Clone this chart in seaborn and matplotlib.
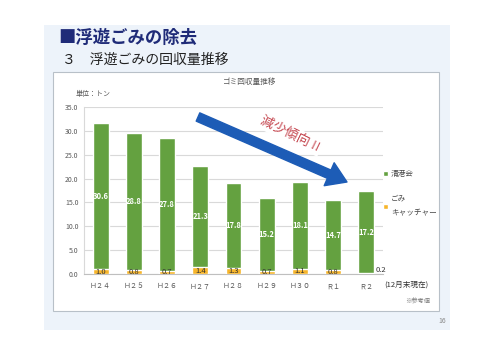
import pandas as pd
import seaborn as sns
import matplotlib.pyplot as plt
from matplotlib.patches import Rectangle, Patch

# データ（単位：トン）
years = ['Ｈ２４', 'Ｈ２５', 'Ｈ２６', 'Ｈ２７', 'Ｈ２８', 'Ｈ２９', 'Ｈ３０', 'Ｒ１', 'Ｒ２']
seikokai = [30.6, 28.8, 27.8, 21.3, 17.8, 15.2, 18.1, 14.7, 17.2]
catcher = [1.0, 0.8, 0.7, 1.4, 1.3, 0.7, 1.1, 0.8, 0.2]

df = pd.DataFrame({'year': years, 'seikokai': seikokai, 'catcher': catcher})
df['total'] = df['seikokai'] + df['catcher']

sns.set_style('white')
plt.rcParams['font.family'] = ['Noto Sans CJK JP', 'DejaVu Sans']

W, H = 500, 354
fig = plt.figure(figsize=(5, 3.54), dpi=100)
fig.patch.set_facecolor('white')


def px(x, y):
    return x / W, 1 - y / H


# スライド背景と枠
fig.patches.append(Rectangle(px(44, 330), 406 / W, 305 / H, transform=fig.transFigure,
                             facecolor='#edf3fa', edgecolor='none', zorder=-2))
fig.patches.append(Rectangle(px(53, 311), 386 / W, 239 / H, transform=fig.transFigure,
                             facecolor='white', edgecolor='#b8c0c8', lw=0.8, zorder=-1))

fig.text(*px(58, 38), '■浮遊ごみの除去', fontsize=12.5, fontweight='bold', color='#1f2b78',
         va='center', ha='left')
fig.text(*px(62, 60), '３　浮遊ごみの回収量推移', fontsize=10, color='#222222',
         va='center', ha='left')
fig.text(*px(250, 82), 'ゴミ回収量推移', fontsize=5.5, color='#555555', va='center', ha='center')
fig.text(*px(76, 94), '単位：トン', fontsize=5, color='#555555', va='center', ha='left')

ax = fig.add_axes([84 / W, 80 / H, 299 / W, 167 / H])
ax.set_zorder(2)
ax.set_facecolor('none')
green = '#64a140'
orange = '#f7b52a'
sns.barplot(data=df, x='year', y='total', color=green, saturation=1, width=0.48, ax=ax, zorder=3)
sns.barplot(data=df, x='year', y='catcher', color=orange, saturation=1, width=0.48, ax=ax, zorder=3)

for i, row in df.iterrows():
    ax.text(i, row['catcher'] + row['seikokai'] / 2, f"{row['seikokai']:.1f}", ha='center',
            va='center', color='white', fontsize=5.5, fontweight='bold', zorder=5)
    if row['catcher'] < 0.5:
        ax.text(i + 0.27, row['catcher'] + 0.6, f"{row['catcher']:.1f}", ha='left',
                va='center', color='#333333', fontsize=5.5, zorder=5)
    else:
        ax.text(i, row['catcher'] / 2, f"{row['catcher']:.1f}", ha='center',
                va='center', color='#333333', fontsize=5.5, zorder=5)

ax.set_ylim(0, 35)
ax.set_xlim(-0.5, 8.5)
ax.set_yticks([0, 5, 10, 15, 20, 25, 30, 35])
ax.set_yticklabels([f'{v:.1f}' for v in [0, 5, 10, 15, 20, 25, 30, 35]])
ax.yaxis.grid(True, color='#d9d9d9', lw=0.8, zorder=0)
ax.set_axisbelow(True)
ax.set_xlabel('')
ax.set_ylabel('')
ax.tick_params(axis='both', labelsize=5, colors='#595959', length=0, pad=4)
ax.tick_params(axis='x', pad=6)
ax.set_xticks([x + 0.5 for x in range(-1, 9)], minor=True)
ax.tick_params(axis='x', which='minor', length=2, color='#bfbfbf', direction='out')
for s in ['top', 'right']:
    ax.spines[s].set_visible(False)
ax.spines['left'].set_color('#d9d9d9')
ax.spines['bottom'].set_color('#bfbfbf')
ax.spines['left'].set_linewidth(0.8)
ax.spines['bottom'].set_linewidth(0.8)

fig.text(*px(384, 285), '(12月末現在)', fontsize=5.5, color='#333333', va='center', ha='left')
fig.text(*px(405, 302), '※参考値', fontsize=4.5, color='#777777', va='center', ha='left')
fig.text(*px(438, 321), '16', fontsize=5, color='#888888', va='center', ha='left')

# 凡例
handles = [Patch(facecolor=green), Patch(facecolor=orange)]
leg = ax.legend(handles, ['清港会', 'ごみ\nキャッチャー'], loc='upper left',
                bbox_to_anchor=px(380, 167), bbox_transform=fig.transFigure, frameon=False,
                fontsize=5.5, handlelength=0.6, handleheight=0.6, handletextpad=0.4,
                labelspacing=2.2, borderaxespad=0)
for t in leg.get_texts():
    t.set_color('#444444')
    t.set_linespacing(2.1)

# 減少傾向の矢印
ax.annotate('', xy=px(347, 182), xytext=px(198, 117), xycoords='figure fraction',
            textcoords='figure fraction',
            arrowprops=dict(arrowstyle='simple,head_width=1.8,head_length=1.4,tail_width=0.65',
                            color='#1d5cb6', mutation_scale=10, shrinkA=0, shrinkB=0),
            annotation_clip=False, zorder=6)
fig.text(*px(290, 134), '減少傾向 !!', fontsize=9.5, color='#c4454e', rotation=-26,
         ha='center', va='center', rotation_mode='anchor',
         bbox=dict(facecolor='white', edgecolor='none', pad=1.5), zorder=7)

fig.savefig('out.png', dpi=100)
